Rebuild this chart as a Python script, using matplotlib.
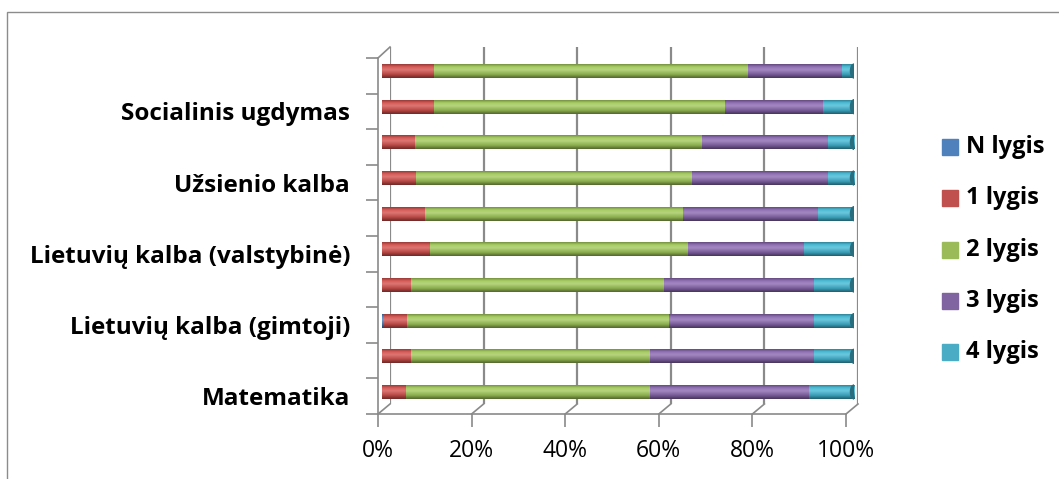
import numpy as np
import matplotlib.pyplot as plt
from matplotlib.colors import LinearSegmentedColormap, to_rgb
from matplotlib.patches import Rectangle, Ellipse
from matplotlib.lines import Line2D

# bars listed bottom -> top, only every second one carries a label
categories = ["Matematika", "", "Lietuvių kalba (gimtoji)", "",
              "Lietuvių kalba (valstybinė)", "", "Užsienio kalba", "",
              "Socialinis ugdymas", ""]
levels = ["N lygis", "1 lygis", "2 lygis", "3 lygis", "4 lygis"]
n_lygis = [0.0, 0.0, 0.2, 0.0, 0.0, 0.0, 0.0, 0.0, 0.0, 0.0]
lygis_1 = [5.0, 6.1, 5.0, 6.1, 10.1, 9.1, 7.1, 7.0, 11.0, 11.0]
lygis_2 = [51.8, 50.7, 55.7, 53.6, 54.7, 54.7, 58.6, 60.7, 61.7, 66.6]
lygis_3 = [33.6, 34.8, 30.7, 31.9, 24.7, 28.6, 28.7, 26.7, 20.8, 19.9]
lygis_4 = [9.6, 8.4, 8.4, 8.4, 10.5, 7.6, 5.6, 5.6, 6.5, 2.5]
ticks_pct = [0, 20, 40, 60, 80, 100]

colors = ["#4F81BD", "#C0504D", "#9BBB59", "#8064A2", "#4BACC6"]
bar_colors = ["#4F81BD", "#D4514D", "#A2C95A", "#8A68B0", "#42B8D4"]

W, H = 1059, 479
plt.rcParams['font.family'] = ['Open Sans', 'DejaVu Sans']
fig = plt.figure(figsize=(W / 100, H / 100), dpi=100)


def box(x0, y0, x1, y1):
    # pixel box (origin top-left) -> figure fraction rect
    return [x0 / W, 1 - y1 / H, (x1 - x0) / W, (y1 - y0) / H]


def shade(c, f):
    r = np.array(to_rgb(c))
    return tuple(r * f) if f < 1 else tuple(r + (1 - r) * (f - 1))


# outer chart frame
fig.add_artist(Rectangle((7 / W, -0.05), 1.1, 1 - 12 / H + 0.05,
                         transform=fig.transFigure, fill=False,
                         edgecolor="#8c8c8c", lw=1.0))

# back wall with the vertical gridlines
wall = fig.add_axes(box(390, 47, 858, 404), zorder=0)
wall.set_xlim(0, 100)
wall.set_ylim(0, 1)
for v in ticks_pct:
    wall.axvline(v, color="#8a8a8a", lw=1.6)
wall.axis("off")

# front axis: category ticks and percent labels
front = fig.add_axes(box(378, 58, 846, 414), zorder=1)
front.patch.set_visible(False)
front.set_xlim(0, 100)
front.set_ylim(-0.5, len(categories) - 0.5)
for s in ["top", "right"]:
    front.spines[s].set_visible(False)
for s in ["left", "bottom"]:
    front.spines[s].set_color("#8a8a8a")
    front.spines[s].set_linewidth(1.2)
front.set_xticks(ticks_pct)
front.set_xticklabels([f"{v}%" for v in ticks_pct], fontsize=16.5)
front.tick_params(axis="x", length=9, color="#8a8a8a", width=1.2, pad=9)
front.set_yticks(np.arange(-0.5, len(categories), 1))
front.set_yticklabels([])
front.tick_params(axis="y", which="major", length=9, color="#8a8a8a", width=1.2)
front.set_yticks(np.arange(len(categories)), minor=True)
front.set_yticklabels(categories, minor=True, fontsize=17.5, fontweight="bold")
front.tick_params(axis="y", which="minor", length=0, pad=20)

# depth connectors between front axis and back wall
inv = fig.transFigure.inverted()


def connect(p_front, p_wall):
    a = inv.transform(front.transData.transform(p_front))
    b = inv.transform(wall.transData.transform(p_wall))
    fig.add_artist(Line2D([a[0], b[0]], [a[1], b[1]], transform=fig.transFigure,
                          color="#8a8a8a", lw=1.2))


for v in ticks_pct:
    connect((v, -0.5), (v, 0))
connect((0, len(categories) - 0.5), (0, 1))

# stacked cylinders
ax = fig.add_axes(box(382, 53.2, 854, 409.8), zorder=2)
ax.patch.set_visible(False)
series = [n_lygis, lygis_1, lygis_2, lygis_3, lygis_4]
y = np.arange(len(categories))
bh = 0.39
left = np.zeros(len(categories))
grad = np.linspace(0, 1, 64).reshape(-1, 1)
for vals, c in zip(series, bar_colors):
    vals = np.array(vals)
    bars = ax.barh(y, vals, left=left, height=bh, color=c, lw=0)
    cmap = LinearSegmentedColormap.from_list(
        "cyl", [(0, shade(c, 0.5)), (0.25, shade(c, 0.85)), (0.6, shade(c, 1.22)),
                (0.82, shade(c, 1.05)), (1, shade(c, 0.7))])
    for b in bars:
        if b.get_width() <= 0:
            continue
        x0, y0 = b.get_x(), b.get_y()
        ax.imshow(grad, cmap=cmap, aspect="auto", origin="lower",
                  interpolation="bicubic", zorder=2,
                  extent=[x0, x0 + b.get_width(), y0, y0 + b.get_height()])
    left += vals

# end caps of the cylinders
for yi, tot in zip(y, left):
    ax.add_patch(Ellipse((tot, yi), 1.5, bh, color=shade(bar_colors[-1], 0.6), zorder=3))
ax.set_xlim(0, 100)
ax.set_ylim(-0.5, len(categories) - 0.5)
ax.axis("off")

# legend
for i, (lab, c) in enumerate(zip(levels, colors)):
    yc = 147 + i * 51.3
    fig.add_artist(Rectangle((942 / W, 1 - (yc + 8) / H), 16 / W, 16 / H,
                             transform=fig.transFigure, color=c))
    fig.text(966 / W, 1 - yc / H, lab, fontsize=17, fontweight="bold", va="center")

fig.savefig("out.png", dpi=100)
